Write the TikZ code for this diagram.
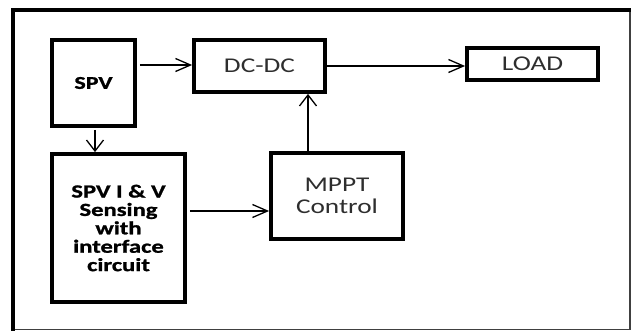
\documentclass[tikz,border=0pt]{standalone}
\usepackage{fontspec}
\setmainfont{Carlito}
\newfontfamily\widebold[FakeStretch=1.33,FakeBold=1.2]{Carlito Bold}
\newfontfamily\widereg[FakeStretch=1.3]{Carlito}
\usetikzlibrary{arrows.meta}
\begin{document}
\begin{tikzpicture}[x=1pt,y=-1pt,
  blk/.style={draw,line width=3.8pt,inner sep=0pt,align=center},
  regtext/.style={font=\widereg\fontsize{21}{22}\selectfont,text=black!82},
  conn/.style={line width=1.4pt,-{Straight Barb[length=15pt,width=13pt,line width=1.3pt]}},
  vconn/.style={line width=1.4pt,-{Straight Barb[length=11pt,width=17pt,line width=1.3pt]}}]
\useasboundingbox (0,0) rectangle (631,331);
\fill[white] (0,0) rectangle (631,331);
% frame
\draw[line width=1.2pt,black!75] (13,329.5) -- (630,329.5) -- (630,10);
\draw[line width=3.5pt] (13,331) -- (13,10) -- (631,10);
% blocks
\node[blk,minimum width=83pt,minimum height=86pt,font=\widebold\fontsize{18}{19}\selectfont] (spv) at (93.5,83) {SPV};
\node[blk,regtext,minimum width=131pt,minimum height=52pt] (dc) at (259.5,66) {DC-DC};
\node[blk,regtext,minimum width=131pt,minimum height=32pt] (load) at (532.5,64) {LOAD};
\node[blk,minimum width=133pt,minimum height=148pt,font=\widebold\fontsize{18.5}{18.4}\selectfont] (sense) at (118.5,228) {SPV I \& V\\Sensing\\with\\interface\\circuit};
\node[blk,regtext,minimum width=132pt,minimum height=86pt] (mppt) at (337,196) {MPPT\\Control};
% connectors
\draw[conn] (spv.east |- 0,65) ++(3,0) -- (dc.west |- 0,65);
\draw[conn] (dc.east |- 0,66) -- (load.west |- 0,66);
\draw[vconn] (spv.south -| 95,0) ++(0,2) -- (sense.north -| 95,0);
\draw[vconn] (mppt.north -| 308,0) -- (dc.south -| 308,0);
\draw[conn] (sense.east |- 0,211) ++(3,0) -- (mppt.west |- 0,211);
\end{tikzpicture}
\end{document}
